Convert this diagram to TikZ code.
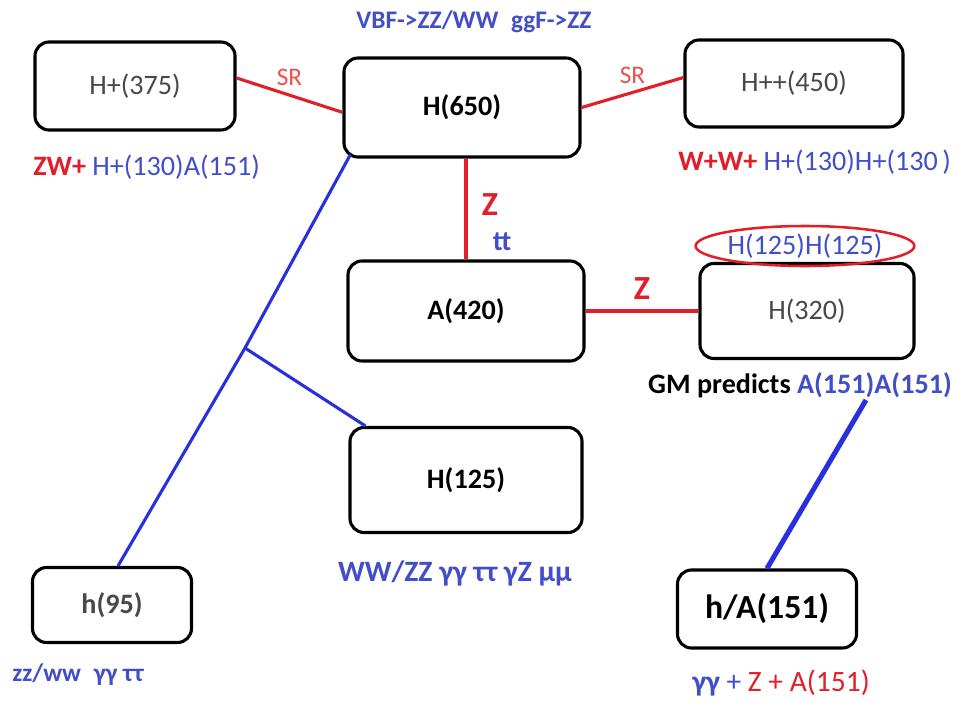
\documentclass[tikz,border=0pt]{standalone}
\usepackage{fontspec}
\setmainfont{Carlito}
\usetikzlibrary{positioning,shapes.geometric}
\definecolor{tblue}{RGB}{66,78,200}
\definecolor{lblue}{RGB}{40,48,222}
\definecolor{tred}{RGB}{226,30,40}
\definecolor{sred}{RGB}{236,80,80}
\definecolor{tgray}{RGB}{72,72,72}
\begin{document}
\begin{tikzpicture}[x=0.025cm, y=-0.025cm]
  \tikzstyle{box} = [rectangle, rounded corners=10pt, inner sep=0pt, line width=2.2pt, draw=black, fill=white, text centered, font=\fontsize{20}{24}\selectfont\bfseries]
  \tikzstyle{pale} = [box, font=\fontsize{20}{24}\selectfont, text=tgray]
  \tikzstyle{redline} = [line width=2.2pt, tred]
  \tikzstyle{blueline} = [line width=2.2pt, lblue]
  \tikzstyle{note} = [inner sep=0pt, font=\fontsize{20}{24}\selectfont, text=tblue]
  \useasboundingbox (0,0) rectangle (958,702);

  % boxes
  \node (Hp375) [pale, minimum width=5cm, minimum height=2.2cm] at (135,86) {H+(375)};
  \node (H650) [box, minimum width=5.9cm, minimum height=2.475cm] at (462,107.5) {H(650)};
  \node (Hpp450) [pale, minimum width=5.45cm, minimum height=2.175cm] at (794,83.5) {H++(450)};
  \node (A420) [box, minimum width=5.9cm, minimum height=2.5cm] at (466,311) {A(420)};
  \node (H320) [pale, minimum width=5.35cm, minimum height=2.375cm] at (807,311) {H(320)};
  \node (H125) [box, minimum width=5.8cm, minimum height=2.625cm] at (466,480) {H(125)};
  \node (h95) [box, minimum width=3.975cm, minimum height=1.875cm, text=tgray] at (112,605) {h(95)};
  \node (hA151) [box, minimum width=4.475cm, minimum height=1.95cm, font=\fontsize{24}{28}\selectfont\bfseries] at (767,609) {h/A(151)};

  % texts
  \node (prod) [note, font=\fontsize{18}{22}\selectfont\bfseries] at (474,22) {VBF->ZZ/WW\enspace ggF->ZZ};
  \node (zw) [note, anchor=west] at (33,167) {\textcolor{tred}{\bfseries ZW+} H+(130)A(151)};
  \node (ww) [note, anchor=west] at (678,162) {\textcolor{tred}{\bfseries W+W+} H+(130)H+(130\,)};
  \node (hh) [note, ellipse, draw=tred, line width=1.8pt, minimum width=4.6cm, minimum height=1cm] at (805,246) {H(125)H(125)};
  \node (gm) [note, anchor=east, font=\fontsize{20}{24}\selectfont\bfseries] at (952,385) {\textcolor{black}{GM predicts} A(151)A(151)};
  \node (dec125) [note, font=\fontsize{21}{25}\selectfont\bfseries] at (455,573) {WW/ZZ γγ ττ γZ μμ};
  \node (dec95) [note, anchor=west, font=\fontsize{18}{22}\selectfont\bfseries] at (12,675) {zz/ww\enspace γγ ττ};
  \node (dec151) [note, anchor=west, font=\fontsize{21}{25}\selectfont] at (692,683) {\textbf{γγ} + \textcolor{tred}{Z + A(151)}};

  % connectors
  \draw [redline] ([yshift=0.2cm]Hp375.east) -- node [above=2pt, text=sred, font=\fontsize{18}{22}\selectfont] {SR} ([yshift=-0.12cm]H650.west);
  \draw [redline] (H650.east) -- node [above=2pt, text=sred, font=\fontsize{18}{22}\selectfont] {SR} ([yshift=0.15cm]Hpp450.west);
  \draw [redline] (A420.north) -- (A420.north |- H650.south);
  \node (zv) [note, text=tred, font=\fontsize{24}{28}\selectfont\bfseries] at (490,205) {Z};
  \node (tt) [note, font=\fontsize{20}{24}\selectfont\bfseries] at (502,242) {tt};
  \draw [redline] (A420.east) -- node [above=4pt, text=tred, font=\fontsize{24}{28}\selectfont\bfseries] {Z} (H320.west);

  \coordinate (fork) at (245,348);
  \coordinate (aa) at (866,400);
  \draw [blueline] ([xshift=0.2cm,yshift=0.1cm]H650.south west) -- (fork) -- ([xshift=0.15cm]h95.north);
  \draw [blueline] (fork) -- ([xshift=0.425cm]H125.north west);
  \draw [blueline, line width=3.6pt] (aa) -- (hA151.north);
\end{tikzpicture}
\end{document}
